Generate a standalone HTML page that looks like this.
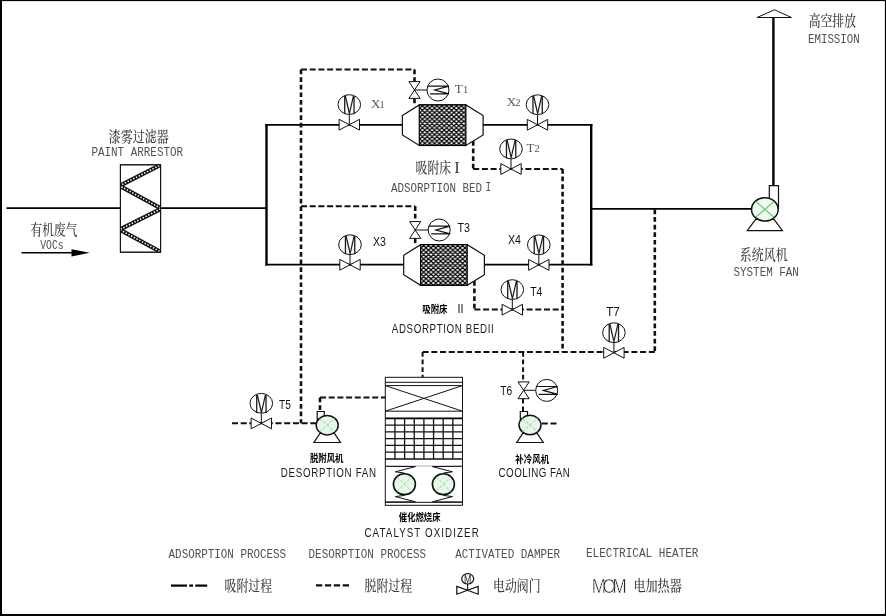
<!DOCTYPE html>
<html lang="zh-CN"><head><meta charset="utf-8"><title>VOCs 吸附浓缩-催化燃烧 工艺流程图</title>
<style>
html,body{margin:0;padding:0;background:#fff;}
body{width:886px;height:616px;overflow:hidden;font-family:"Liberation Sans","Noto Sans CJK SC",sans-serif;}
svg{display:block;will-change:transform;}
</style></head><body>
<svg width="886" height="616" viewBox="0 0 886 616">
<defs><pattern id="hatch1" width="4.87" height="4.4" patternUnits="userSpaceOnUse" patternTransform="translate(419.9,108.1)"><rect width="4.87" height="4.4" fill="#fff"/><path d="M-4.87,-4.4 L9.74,8.8 M-4.87,8.8 L9.74,-4.4 M0,-4.4 L14.61,8.8 M-9.74,-4.4 L4.87,8.8 M0,8.8 L14.61,-4.4 M-9.74,8.8 L4.87,-4.4" stroke="#000" stroke-width="1.2" fill="none"/></pattern><pattern id="hatch2" width="4.87" height="4.4" patternUnits="userSpaceOnUse" patternTransform="translate(421.2,247.9)"><rect width="4.87" height="4.4" fill="#fff"/><path d="M-4.87,-4.4 L9.74,8.8 M-4.87,8.8 L9.74,-4.4 M0,-4.4 L14.61,8.8 M-9.74,-4.4 L4.87,8.8 M0,8.8 L14.61,-4.4 M-9.74,8.8 L4.87,-4.4" stroke="#000" stroke-width="1.2" fill="none"/></pattern></defs>
<rect x="0" y="0" width="886" height="616" fill="#fff"/>
<line x1="6.5" y1="208.2" x2="120.5" y2="208.2" stroke="#000" stroke-width="1.8" />
<line x1="160.5" y1="208.2" x2="267" y2="208.2" stroke="#000" stroke-width="1.8" />
<line x1="265.4" y1="124.8" x2="403" y2="124.8" stroke="#000" stroke-width="1.8" />
<line x1="265.4" y1="264.7" x2="404" y2="264.7" stroke="#000" stroke-width="1.8" />
<line x1="266.5" y1="124" x2="266.5" y2="265.5" stroke="#000" stroke-width="2.4" />
<line x1="483" y1="124.8" x2="592.4" y2="124.8" stroke="#000" stroke-width="1.8" />
<line x1="484" y1="264.7" x2="592.4" y2="264.7" stroke="#000" stroke-width="1.8" />
<line x1="591.2" y1="124" x2="591.2" y2="265.5" stroke="#000" stroke-width="2.4" />
<line x1="591.2" y1="208.8" x2="751.2" y2="208.8" stroke="#000" stroke-width="1.8" />
<line x1="773.4" y1="17.5" x2="773.4" y2="185.6" stroke="#000" stroke-width="2.4" />
<polygon points="757,17.5 791.5,17.5 774.5,9.8" stroke="#111" stroke-width="1" fill="#fff"/>
<rect x="120.4" y="164.8" width="40.2" height="87.4" stroke="#111" stroke-width="1" fill="#fff"/>
<clipPath id="fclip"><rect x="120.4" y="164.8" width="40.2" height="87.4"/></clipPath>
<g clip-path="url(#fclip)">
<polyline points="162,164.2 119.6,185.8 161.4,208.6 119.6,229.6 162,252.6" stroke="#111" stroke-width="4.2" fill="none" stroke-linejoin="miter"/>
<polyline points="162,164.2 119.6,185.8 161.4,208.6 119.6,229.6 162,252.6" stroke="#fff" stroke-width="1.6" fill="none" stroke-dasharray="1.4 1.7"/>
</g>
<rect x="120.4" y="164.8" width="40.2" height="87.4" stroke="#111" stroke-width="1" fill="none"/>
<line x1="21.5" y1="252.8" x2="74" y2="252.8" stroke="#000" stroke-width="1.6" />
<polygon points="71.5,249.2 89.8,252.8 71.5,256.5" fill="#000"/>
<line x1="301" y1="69.6" x2="301" y2="423.3" stroke="#111" stroke-width="2.6" stroke-dasharray="4.7 2.9"/>
<line x1="301" y1="69.6" x2="414.5" y2="69.6" stroke="#111" stroke-width="2.0" stroke-dasharray="6 2.7"/>
<line x1="414.5" y1="69.6" x2="414.5" y2="81.5" stroke="#111" stroke-width="2.6" stroke-dasharray="4.7 2.9"/>
<line x1="414.5" y1="98.5" x2="414.5" y2="105" stroke="#111" stroke-width="2.6" stroke-dasharray="4.7 2.9"/>
<line x1="301" y1="206.2" x2="415.2" y2="206.2" stroke="#111" stroke-width="2.0" stroke-dasharray="6 2.7"/>
<line x1="415.2" y1="206.2" x2="415.2" y2="221.8" stroke="#111" stroke-width="2.6" stroke-dasharray="4.7 2.9"/>
<line x1="415.2" y1="238.4" x2="415.2" y2="245" stroke="#111" stroke-width="2.6" stroke-dasharray="4.7 2.9"/>
<line x1="473.2" y1="141" x2="473.2" y2="169" stroke="#111" stroke-width="2.6" stroke-dasharray="4.7 2.9"/>
<line x1="473.2" y1="169" x2="562.6" y2="169" stroke="#111" stroke-width="2.0" stroke-dasharray="6 2.7"/>
<line x1="562.6" y1="169" x2="562.6" y2="352" stroke="#111" stroke-width="2.6" stroke-dasharray="4.7 2.9"/>
<line x1="474.4" y1="281" x2="474.4" y2="309.6" stroke="#111" stroke-width="2.6" stroke-dasharray="4.7 2.9"/>
<line x1="474.4" y1="309.6" x2="562.6" y2="309.6" stroke="#111" stroke-width="2.0" stroke-dasharray="6 2.7"/>
<line x1="422.6" y1="352" x2="655" y2="352" stroke="#111" stroke-width="2.0" stroke-dasharray="6 2.7"/>
<line x1="422.6" y1="352" x2="422.6" y2="377.5" stroke="#111" stroke-width="2.0" stroke-dasharray="4.7 2.9"/>
<line x1="654.8" y1="209.5" x2="654.8" y2="352" stroke="#111" stroke-width="2.6" stroke-dasharray="4.7 2.9"/>
<line x1="523.1" y1="352" x2="523.1" y2="382" stroke="#111" stroke-width="2.0" stroke-dasharray="4.7 2.9"/>
<line x1="523" y1="398.8" x2="523" y2="411.5" stroke="#111" stroke-width="2.0" stroke-dasharray="4.7 2.9"/>
<line x1="541.8" y1="423.4" x2="557.2" y2="423.4" stroke="#111" stroke-width="2.0" stroke-dasharray="6 2.7"/>
<line x1="232" y1="423.3" x2="316" y2="423.3" stroke="#111" stroke-width="2.0" stroke-dasharray="6 2.7"/>
<line x1="320" y1="397.6" x2="320" y2="410.5" stroke="#111" stroke-width="2.6" stroke-dasharray="4.7 2.9"/>
<line x1="320" y1="397.6" x2="385.3" y2="397.6" stroke="#111" stroke-width="2.0" stroke-dasharray="6 2.7"/>
<polygon points="402.4,115.5 419.29999999999995,104.9 465.9,104.9 483.09999999999997,115.5 483.09999999999997,134.9 465.9,145.5 419.29999999999995,145.5 402.4,134.9" stroke="#111" stroke-width="1.2" fill="#fff"/>
<rect x="419.29999999999995" y="104.9" width="46.6" height="40.6" fill="url(#hatch1)" stroke="#000" stroke-width="1.2"/>
<polygon points="403.7,255.3 420.59999999999997,244.7 467.2,244.7 484.4,255.3 484.4,274.7 467.2,285.3 420.59999999999997,285.3 403.7,274.7" stroke="#111" stroke-width="1.2" fill="#fff"/>
<rect x="420.59999999999997" y="244.7" width="46.6" height="40.6" fill="url(#hatch2)" stroke="#000" stroke-width="1.2"/>
<polygon points="339.1,119.3 339.1,130.1 349.3,124.7" stroke="#111" stroke-width="1" fill="#fff"/>
<polygon points="359.5,119.3 359.5,130.1 349.3,124.7" stroke="#111" stroke-width="1" fill="#fff"/>
<line x1="349.3" y1="124.7" x2="349.3" y2="114.7" stroke="#111" stroke-width="1"/>
<ellipse cx="349.3" cy="104.6" rx="11.3" ry="9.9" stroke="#111" stroke-width="1" fill="#fff"/>
<text transform="translate(349.3,114.0) scale(0.6,1)" text-anchor="middle" font-family='"Liberation Sans","Noto Sans CJK SC",sans-serif' font-size="26.5" fill="#1a1a1a">M</text>
<polygon points="527.3,119.39999999999999 527.3,130.2 537.5,124.8" stroke="#111" stroke-width="1" fill="#fff"/>
<polygon points="547.7,119.39999999999999 547.7,130.2 537.5,124.8" stroke="#111" stroke-width="1" fill="#fff"/>
<line x1="537.5" y1="124.8" x2="537.5" y2="114.8" stroke="#111" stroke-width="1"/>
<ellipse cx="537.5" cy="104.7" rx="11.3" ry="9.9" stroke="#111" stroke-width="1" fill="#fff"/>
<text transform="translate(537.5,114.1) scale(0.6,1)" text-anchor="middle" font-family='"Liberation Sans","Noto Sans CJK SC",sans-serif' font-size="26.5" fill="#1a1a1a">M</text>
<polygon points="500.8,163.6 500.8,174.4 511,169" stroke="#111" stroke-width="1" fill="#fff"/>
<polygon points="521.2,163.6 521.2,174.4 511,169" stroke="#111" stroke-width="1" fill="#fff"/>
<line x1="511" y1="169" x2="511" y2="159" stroke="#111" stroke-width="1"/>
<ellipse cx="511" cy="148.9" rx="11.3" ry="9.9" stroke="#111" stroke-width="1" fill="#fff"/>
<text transform="translate(511,158.3) scale(0.6,1)" text-anchor="middle" font-family='"Liberation Sans","Noto Sans CJK SC",sans-serif' font-size="26.5" fill="#1a1a1a">M</text>
<polygon points="339.8,259.40000000000003 339.8,270.2 350,264.8" stroke="#111" stroke-width="1" fill="#fff"/>
<polygon points="360.2,259.40000000000003 360.2,270.2 350,264.8" stroke="#111" stroke-width="1" fill="#fff"/>
<line x1="350" y1="264.8" x2="350" y2="254.8" stroke="#111" stroke-width="1"/>
<ellipse cx="350" cy="244.7" rx="11.3" ry="9.9" stroke="#111" stroke-width="1" fill="#fff"/>
<text transform="translate(350,254.1) scale(0.6,1)" text-anchor="middle" font-family='"Liberation Sans","Noto Sans CJK SC",sans-serif' font-size="26.5" fill="#1a1a1a">M</text>
<polygon points="528.5999999999999,259.5 528.5999999999999,270.29999999999995 538.8,264.9" stroke="#111" stroke-width="1" fill="#fff"/>
<polygon points="549.0,259.5 549.0,270.29999999999995 538.8,264.9" stroke="#111" stroke-width="1" fill="#fff"/>
<line x1="538.8" y1="264.9" x2="538.8" y2="254.9" stroke="#111" stroke-width="1"/>
<ellipse cx="538.8" cy="244.8" rx="11.3" ry="9.9" stroke="#111" stroke-width="1" fill="#fff"/>
<text transform="translate(538.8,254.2) scale(0.6,1)" text-anchor="middle" font-family='"Liberation Sans","Noto Sans CJK SC",sans-serif' font-size="26.5" fill="#1a1a1a">M</text>
<polygon points="502.09999999999997,304.3 502.09999999999997,315.09999999999997 512.3,309.7" stroke="#111" stroke-width="1" fill="#fff"/>
<polygon points="522.5,304.3 522.5,315.09999999999997 512.3,309.7" stroke="#111" stroke-width="1" fill="#fff"/>
<line x1="512.3" y1="309.7" x2="512.3" y2="299.7" stroke="#111" stroke-width="1"/>
<ellipse cx="512.3" cy="289.6" rx="11.3" ry="9.9" stroke="#111" stroke-width="1" fill="#fff"/>
<text transform="translate(512.3,299.0) scale(0.6,1)" text-anchor="middle" font-family='"Liberation Sans","Noto Sans CJK SC",sans-serif' font-size="26.5" fill="#1a1a1a">M</text>
<polygon points="251.10000000000002,418.0 251.10000000000002,428.79999999999995 261.3,423.4" stroke="#111" stroke-width="1" fill="#fff"/>
<polygon points="271.5,418.0 271.5,428.79999999999995 261.3,423.4" stroke="#111" stroke-width="1" fill="#fff"/>
<line x1="261.3" y1="423.4" x2="261.3" y2="413.4" stroke="#111" stroke-width="1"/>
<ellipse cx="261.3" cy="403.3" rx="11.3" ry="9.9" stroke="#111" stroke-width="1" fill="#fff"/>
<text transform="translate(261.3,412.7) scale(0.6,1)" text-anchor="middle" font-family='"Liberation Sans","Noto Sans CJK SC",sans-serif' font-size="26.5" fill="#1a1a1a">M</text>
<polygon points="603.6999999999999,347.40000000000003 603.6999999999999,358.2 613.9,352.8" stroke="#111" stroke-width="1" fill="#fff"/>
<polygon points="624.1,347.40000000000003 624.1,358.2 613.9,352.8" stroke="#111" stroke-width="1" fill="#fff"/>
<line x1="613.9" y1="352.8" x2="613.9" y2="342.8" stroke="#111" stroke-width="1"/>
<ellipse cx="613.9" cy="332.7" rx="11.3" ry="9.9" stroke="#111" stroke-width="1" fill="#fff"/>
<text transform="translate(613.9,342.1) scale(0.6,1)" text-anchor="middle" font-family='"Liberation Sans","Noto Sans CJK SC",sans-serif' font-size="26.5" fill="#1a1a1a">M</text>
<polygon points="408.9,81.6 420.1,81.6 414.5,90" stroke="#111" stroke-width="1" fill="#fff"/>
<polygon points="408.9,98.4 420.1,98.4 414.5,90" stroke="#111" stroke-width="1" fill="#fff"/>
<line x1="414.5" y1="90" x2="427" y2="90" stroke="#111" stroke-width="1" />
<circle cx="438" cy="90" r="11" stroke="#111" stroke-width="1" fill="#fff"/>
<polyline points="427.7,86.1 449,86.1 434.7,90 449,93.9 430,93.9" stroke="#111" stroke-width="1.2" fill="none"/>
<polygon points="409.59999999999997,221.6 420.8,221.6 415.2,230" stroke="#111" stroke-width="1" fill="#fff"/>
<polygon points="409.59999999999997,238.4 420.8,238.4 415.2,230" stroke="#111" stroke-width="1" fill="#fff"/>
<line x1="415.2" y1="230" x2="428.2" y2="230" stroke="#111" stroke-width="1" />
<circle cx="439.2" cy="230" r="11" stroke="#111" stroke-width="1" fill="#fff"/>
<polyline points="428.9,226.1 450.2,226.1 435.9,230 450.2,233.9 431.2,233.9" stroke="#111" stroke-width="1.2" fill="none"/>
<polygon points="518.0,381.90000000000003 529.2,381.90000000000003 523.6,390.3" stroke="#111" stroke-width="1" fill="#fff"/>
<polygon points="518.0,398.7 529.2,398.7 523.6,390.3" stroke="#111" stroke-width="1" fill="#fff"/>
<line x1="523.6" y1="390.3" x2="535.6" y2="390.3" stroke="#111" stroke-width="1" />
<circle cx="546.7" cy="390.4" r="11" stroke="#111" stroke-width="1" fill="#fff"/>
<polyline points="536.4000000000001,386.5 557.7,386.5 543.4000000000001,390.4 557.7,394.29999999999995 538.7,394.29999999999995" stroke="#111" stroke-width="1.2" fill="none"/>
<path d="M769.3,200 V185.6 H778.5 V209" stroke="#111" stroke-width="1.2" fill="#fff"/>
<polygon points="755.65,219.34 774.05,219.34 782.45,230.7 747.25,230.7" stroke="#111" stroke-width="1.2" fill="#fff"/>
<ellipse cx="764.85" cy="209.4" rx="13.3" ry="11.7" stroke="#111" stroke-width="1.5" fill="#f1faf2"/>
<line x1="755.81" y1="201.44" x2="773.89" y2="217.36" stroke="#6fcf78" stroke-width="1.3"/>
<line x1="755.81" y1="217.36" x2="773.89" y2="201.44" stroke="#6fcf78" stroke-width="1.3"/>
<path d="M317.2,424 V411.5 H324.3 V418" stroke="#111" stroke-width="1.2" fill="#fff"/>
<polygon points="320.0,433.44 334.4,433.44 340.5,442.5 313.9,442.5" stroke="#111" stroke-width="1.2" fill="#fff"/>
<ellipse cx="327.2" cy="425.2" rx="11" ry="9.7" stroke="#111" stroke-width="1.5" fill="#e6f6e8"/>
<line x1="319.72" y1="418.6" x2="334.68" y2="431.8" stroke="#8fd497" stroke-width="1" stroke-dasharray="3 1.8"/>
<line x1="319.72" y1="431.8" x2="334.68" y2="418.6" stroke="#8fd497" stroke-width="1" stroke-dasharray="3 1.8"/>
<path d="M520.3,424 V411.5 H527.5 V418" stroke="#111" stroke-width="1.2" fill="#fff"/>
<polygon points="522.8,433.3 537.2,433.3 543.3,442.5 516.7,442.5" stroke="#111" stroke-width="1.2" fill="#fff"/>
<ellipse cx="530" cy="425.05" rx="11" ry="9.7" stroke="#111" stroke-width="1.5" fill="#e6f6e8"/>
<line x1="522.52" y1="418.45" x2="537.48" y2="431.65" stroke="#8fd497" stroke-width="1" stroke-dasharray="3 1.8"/>
<line x1="522.52" y1="431.65" x2="537.48" y2="418.45" stroke="#8fd497" stroke-width="1" stroke-dasharray="3 1.8"/>
<rect x="385.3" y="377.3" width="77.19999999999999" height="128" stroke="#111" stroke-width="1" fill="#fff"/>
<line x1="385.3" y1="382.3" x2="462.5" y2="382.3" stroke="#111" stroke-width="1" />
<line x1="385.3" y1="385.6" x2="462.5" y2="385.6" stroke="#111" stroke-width="1" />
<line x1="385.3" y1="411.2" x2="462.5" y2="411.2" stroke="#111" stroke-width="1" />
<line x1="385.3" y1="385.6" x2="462.5" y2="411.2" stroke="#111" stroke-width="1" />
<line x1="385.3" y1="411.2" x2="462.5" y2="385.6" stroke="#111" stroke-width="1" />
<line x1="385.3" y1="418.3" x2="462.5" y2="418.3" stroke="#000" stroke-width="1.8" />
<line x1="385.3" y1="425.08" x2="462.5" y2="425.08" stroke="#111" stroke-width="1.3" />
<line x1="385.3" y1="431.87" x2="462.5" y2="431.87" stroke="#111" stroke-width="1.3" />
<line x1="385.3" y1="438.65" x2="462.5" y2="438.65" stroke="#111" stroke-width="1.3" />
<line x1="385.3" y1="445.43" x2="462.5" y2="445.43" stroke="#111" stroke-width="1.3" />
<line x1="385.3" y1="452.22" x2="462.5" y2="452.22" stroke="#111" stroke-width="1.3" />
<line x1="385.3" y1="459.0" x2="462.5" y2="459.0" stroke="#111" stroke-width="1.6" />
<line x1="394.95" y1="418.3" x2="394.95" y2="459" stroke="#111" stroke-width="1.3" />
<line x1="404.6" y1="418.3" x2="404.6" y2="459" stroke="#111" stroke-width="1.3" />
<line x1="414.25" y1="418.3" x2="414.25" y2="459" stroke="#111" stroke-width="1.3" />
<line x1="423.9" y1="418.3" x2="423.9" y2="459" stroke="#111" stroke-width="1.3" />
<line x1="433.55" y1="418.3" x2="433.55" y2="459" stroke="#111" stroke-width="1.3" />
<line x1="443.2" y1="418.3" x2="443.2" y2="459" stroke="#111" stroke-width="1.3" />
<line x1="452.85" y1="418.3" x2="452.85" y2="459" stroke="#111" stroke-width="1.3" />
<line x1="385.3" y1="466" x2="462.5" y2="466" stroke="#999" stroke-width="0.8" />
<line x1="385.3" y1="502.3" x2="462.5" y2="502.3" stroke="#111" stroke-width="1" />
<polyline points="385.29999999999995,466.3 415.4,466.6 395.29999999999995,471.8 404.4,473" stroke="#111" stroke-width="1" fill="none"/>
<polyline points="385.29999999999995,502 415.4,501.8 395.29999999999995,496.6 404.4,495.4" stroke="#111" stroke-width="1" fill="none"/>
<ellipse cx="404.4" cy="484.2" rx="11" ry="10.4" stroke="#111" stroke-width="1.6" fill="#e6f6e8"/>
<line x1="397.2" y1="477.0" x2="411.59999999999997" y2="491.4" stroke="#8fd497" stroke-width="1" stroke-dasharray="3 1.8"/>
<line x1="397.2" y1="491.4" x2="411.59999999999997" y2="477.0" stroke="#8fd497" stroke-width="1" stroke-dasharray="3 1.8"/>
<polyline points="462.5,466.3 432.4,466.6 452.5,471.8 443.4,473" stroke="#111" stroke-width="1" fill="none"/>
<polyline points="462.5,502 432.4,501.8 452.5,496.6 443.4,495.4" stroke="#111" stroke-width="1" fill="none"/>
<ellipse cx="443.4" cy="484.2" rx="11" ry="10.4" stroke="#111" stroke-width="1.6" fill="#e6f6e8"/>
<line x1="436.2" y1="477.0" x2="450.59999999999997" y2="491.4" stroke="#8fd497" stroke-width="1" stroke-dasharray="3 1.8"/>
<line x1="436.2" y1="491.4" x2="450.59999999999997" y2="477.0" stroke="#8fd497" stroke-width="1" stroke-dasharray="3 1.8"/>
<line x1="171" y1="585.6" x2="187" y2="585.6" stroke="#000" stroke-width="2.2" />
<line x1="189.3" y1="585.6" x2="193" y2="585.6" stroke="#000" stroke-width="2.2" />
<line x1="195.3" y1="585.6" x2="207.2" y2="585.6" stroke="#000" stroke-width="2.2" />
<line x1="316" y1="585.3" x2="349" y2="585.3" stroke="#111" stroke-width="2.2" stroke-dasharray="6.3 2.6"/>
<polygon points="456.8,586.4 456.8,594.2 467.5,590.3" stroke="#111" stroke-width="1.2" fill="#fff"/>
<polygon points="478.2,586.4 478.2,594.2 467.5,590.3" stroke="#111" stroke-width="1.2" fill="#fff"/>
<line x1="467.6" y1="590.3" x2="467.6" y2="584" stroke="#111" stroke-width="1.1" />
<ellipse cx="467.7" cy="578.8" rx="6" ry="5.2" stroke="#111" stroke-width="1.2" fill="#fff"/>
<text transform="translate(467.7,583) scale(0.74,1)" text-anchor="middle" font-family='"Liberation Sans","Noto Sans CJK SC",sans-serif' font-size="11.8" fill="#111">M</text>
<text transform="translate(108.6,141.85) scale(0.8303,1)" font-family='"Liberation Serif","Noto Serif CJK SC",serif' font-size="14.5" font-weight="500" fill="#3c3c3c">漆雾过滤器</text>
<text x="91.4" y="156.2" font-family='"Liberation Mono","Noto Serif CJK SC",monospace' font-size="12.8" font-weight="normal" fill="#505050" text-anchor="start" textLength="91.7" lengthAdjust="spacingAndGlyphs" >PAINT ARRESTOR</text>
<text transform="translate(30.6,234.55) scale(0.8069,1)" font-family='"Liberation Serif","Noto Serif CJK SC",serif' font-size="14.5" font-weight="500" fill="#3c3c3c">有机废气</text>
<text x="40.3" y="249" font-family='"Liberation Mono","Noto Serif CJK SC",monospace' font-size="12.8" font-weight="normal" fill="#505050" text-anchor="start" textLength="23.3" lengthAdjust="spacingAndGlyphs" >VOCs</text>
<text transform="translate(808.8,26.45) scale(0.8138,1)" font-family='"Liberation Serif","Noto Serif CJK SC",serif' font-size="14.5" font-weight="500" fill="#3c3c3c">高空排放</text>
<text x="808" y="43.4" font-family='"Liberation Mono","Noto Serif CJK SC",monospace' font-size="12.8" font-weight="normal" fill="#505050" text-anchor="start" textLength="51.7" lengthAdjust="spacingAndGlyphs" >EMISSION</text>
<text transform="translate(739.8,260.35) scale(0.8259,1)" font-family='"Liberation Serif","Noto Serif CJK SC",serif' font-size="14.5" font-weight="500" fill="#3c3c3c">系统风机</text>
<text x="733.5" y="276.1" font-family='"Liberation Mono","Noto Serif CJK SC",monospace' font-size="12.8" font-weight="normal" fill="#505050" text-anchor="start" textLength="65.4" lengthAdjust="spacingAndGlyphs" >SYSTEM FAN</text>
<text transform="translate(415.6,173.15) scale(0.8184,1)" font-family='"Liberation Serif","Noto Serif CJK SC",serif' font-size="14.5" font-weight="500" fill="#3c3c3c">吸附床</text>
<text x="454.2" y="173.4" font-family='"Liberation Serif","Noto Serif CJK SC",serif' font-size="16.5" font-weight="normal" fill="#3c3c3c" text-anchor="start" >I</text>
<text x="391" y="191.6" font-family='"Liberation Mono","Noto Serif CJK SC",monospace' font-size="12.8" font-weight="normal" fill="#505050" text-anchor="start" textLength="91" lengthAdjust="spacingAndGlyphs" >ADSORPTION BED</text>
<text x="485.6" y="190.6" font-family='"Liberation Mono","Noto Serif CJK SC",monospace' font-size="12.8" font-weight="normal" fill="#505050" text-anchor="start" textLength="5.6" lengthAdjust="spacingAndGlyphs" >I</text>
<text x="371" y="107.6" font-family='"Liberation Serif","Noto Serif CJK SC",serif' font-size="13" font-weight="normal" fill="#4a5a55" text-anchor="start" >X</text>
<text x="379.6" y="107.6" font-family='"Liberation Serif","Noto Serif CJK SC",serif' font-size="10.5" font-weight="normal" fill="#4a5a55" text-anchor="start" >1</text>
<text x="454.8" y="93.4" font-family='"Liberation Serif","Noto Serif CJK SC",serif' font-size="13" font-weight="normal" fill="#4a5a55" text-anchor="start" >T</text>
<text x="463" y="93.4" font-family='"Liberation Serif","Noto Serif CJK SC",serif' font-size="10.5" font-weight="normal" fill="#4a5a55" text-anchor="start" >1</text>
<text x="506.7" y="106" font-family='"Liberation Serif","Noto Serif CJK SC",serif' font-size="13" font-weight="normal" fill="#4a5a55" text-anchor="start" >X</text>
<text x="515.2" y="106" font-family='"Liberation Serif","Noto Serif CJK SC",serif' font-size="10.5" font-weight="normal" fill="#4a5a55" text-anchor="start" >2</text>
<text x="526.6" y="152" font-family='"Liberation Serif","Noto Serif CJK SC",serif' font-size="13" font-weight="normal" fill="#4a5a55" text-anchor="start" >T</text>
<text x="534.5" y="152" font-family='"Liberation Serif","Noto Serif CJK SC",serif' font-size="10.5" font-weight="normal" fill="#4a5a55" text-anchor="start" >2</text>
<text x="373" y="245.9" font-family='"Liberation Sans","Noto Sans CJK SC",sans-serif' font-size="12.6" font-weight="normal" fill="#111" text-anchor="start" textLength="13" lengthAdjust="spacingAndGlyphs" >X3</text>
<text x="457.5" y="232.2" font-family='"Liberation Sans","Noto Sans CJK SC",sans-serif' font-size="12.6" font-weight="normal" fill="#111" text-anchor="start" textLength="12.5" lengthAdjust="spacingAndGlyphs" >T3</text>
<text x="508" y="244.2" font-family='"Liberation Sans","Noto Sans CJK SC",sans-serif' font-size="12.6" font-weight="normal" fill="#111" text-anchor="start" textLength="13" lengthAdjust="spacingAndGlyphs" >X4</text>
<text x="530.3" y="295.6" font-family='"Liberation Sans","Noto Sans CJK SC",sans-serif' font-size="12.6" font-weight="normal" fill="#111" text-anchor="start" textLength="12" lengthAdjust="spacingAndGlyphs" >T4</text>
<text x="279.1" y="409" font-family='"Liberation Sans","Noto Sans CJK SC",sans-serif' font-size="12.6" font-weight="normal" fill="#111" text-anchor="start" textLength="11.8" lengthAdjust="spacingAndGlyphs" >T5</text>
<text x="500.3" y="394.6" font-family='"Liberation Sans","Noto Sans CJK SC",sans-serif' font-size="12.6" font-weight="normal" fill="#111" text-anchor="start" textLength="11.8" lengthAdjust="spacingAndGlyphs" >T6</text>
<text x="606.3" y="316.2" font-family='"Liberation Sans","Noto Sans CJK SC",sans-serif' font-size="12.6" font-weight="normal" fill="#111" text-anchor="start" textLength="13.4" lengthAdjust="spacingAndGlyphs" >T7</text>
<text transform="translate(422.2,312.9) scale(0.8467,1)" font-family='"Liberation Sans","Noto Sans CJK SC",sans-serif' font-size="10" font-weight="bold" fill="#000">吸附床</text>
<text x="457.4" y="313.4" font-family='"Liberation Sans","Noto Sans CJK SC",sans-serif' font-size="12.6" font-weight="normal" fill="#111" text-anchor="start" textLength="6" lengthAdjust="spacingAndGlyphs" >II</text>
<text transform="translate(309.9,461.7) scale(0.8375,1)" font-family='"Liberation Sans","Noto Sans CJK SC",sans-serif' font-size="10" font-weight="bold" fill="#000">脱附风机</text>
<text transform="translate(515.2,462.5) scale(0.85,1)" font-family='"Liberation Sans","Noto Sans CJK SC",sans-serif' font-size="10" font-weight="bold" fill="#000">补冷风机</text>
<text transform="translate(398.8,520.96) scale(0.8038,1)" font-family='"Liberation Sans","Noto Sans CJK SC",sans-serif' font-size="10.4" font-weight="bold" fill="#000">催化燃烧床</text>
<text transform="translate(391.8,333.2) scale(0.8,1)" font-family='"Liberation Sans","Noto Sans CJK SC",sans-serif' font-size="12.2" fill="#1a1a1a" textLength="127.5" lengthAdjust="spacing">ADSORPTION BEDII</text>
<text transform="translate(280.8,477) scale(0.8,1)" font-family='"Liberation Sans","Noto Sans CJK SC",sans-serif' font-size="12.2" fill="#1a1a1a" textLength="119.0" lengthAdjust="spacing">DESORPTION FAN</text>
<text transform="translate(498.6,477.3) scale(0.8,1)" font-family='"Liberation Sans","Noto Sans CJK SC",sans-serif' font-size="12.2" fill="#1a1a1a" textLength="89.0" lengthAdjust="spacing">COOLING FAN</text>
<text transform="translate(364.5,537.3) scale(0.8,1)" font-family='"Liberation Sans","Noto Sans CJK SC",sans-serif' font-size="12.2" fill="#1a1a1a" textLength="142.8" lengthAdjust="spacing">CATALYST OXIDIZER</text>
<text x="168.6" y="557.6" font-family='"Liberation Mono","Noto Serif CJK SC",monospace' font-size="12.8" font-weight="normal" fill="#505050" text-anchor="start" textLength="117.5" lengthAdjust="spacingAndGlyphs" >ADSORPTION PROCESS</text>
<text x="308.6" y="557.7" font-family='"Liberation Mono","Noto Serif CJK SC",monospace' font-size="12.8" font-weight="normal" fill="#505050" text-anchor="start" textLength="117.5" lengthAdjust="spacingAndGlyphs" >DESORPTION PROCESS</text>
<text x="455.2" y="558" font-family='"Liberation Mono","Noto Serif CJK SC",monospace' font-size="12.8" font-weight="normal" fill="#505050" text-anchor="start" textLength="105" lengthAdjust="spacingAndGlyphs" >ACTIVATED DAMPER</text>
<text x="586" y="556.9" font-family='"Liberation Mono","Noto Serif CJK SC",monospace' font-size="12.8" font-weight="normal" fill="#505050" text-anchor="start" textLength="112.5" lengthAdjust="spacingAndGlyphs" >ELECTRICAL HEATER</text>
<text transform="translate(224.5,591.05) scale(0.8224,1)" font-family='"Liberation Serif","Noto Serif CJK SC",serif' font-size="14.5" font-weight="500" fill="#3c3c3c">吸附过程</text>
<text transform="translate(364.5,591.05) scale(0.8224,1)" font-family='"Liberation Serif","Noto Serif CJK SC",serif' font-size="14.5" font-weight="500" fill="#3c3c3c">脱附过程</text>
<text transform="translate(493.1,590.95) scale(0.8172,1)" font-family='"Liberation Serif","Noto Serif CJK SC",serif' font-size="14.5" font-weight="500" fill="#3c3c3c">电动阀门</text>
<text transform="translate(633.4,590.95) scale(0.8345,1)" font-family='"Liberation Serif","Noto Serif CJK SC",serif' font-size="14.5" font-weight="500" fill="#3c3c3c">电加热器</text>
<text transform="translate(592.9,592.6) scale(0.85,1)" x="-1.5 11.2 23.2" y="0" font-family='"Liberation Sans","Noto Sans CJK SC",sans-serif' font-size="20" fill="#111" stroke="#fff" stroke-width="0.55" paint-order="fill stroke">MOM</text>
<rect x="0" y="0" width="2" height="616" fill="#000"/>
<rect x="0" y="0" width="886" height="1.1" fill="#000"/>
<rect x="884.9" y="0" width="1.1" height="616" fill="#000"/>
<rect x="0" y="614" width="886" height="2" fill="#000"/>
</svg>
</body></html>
